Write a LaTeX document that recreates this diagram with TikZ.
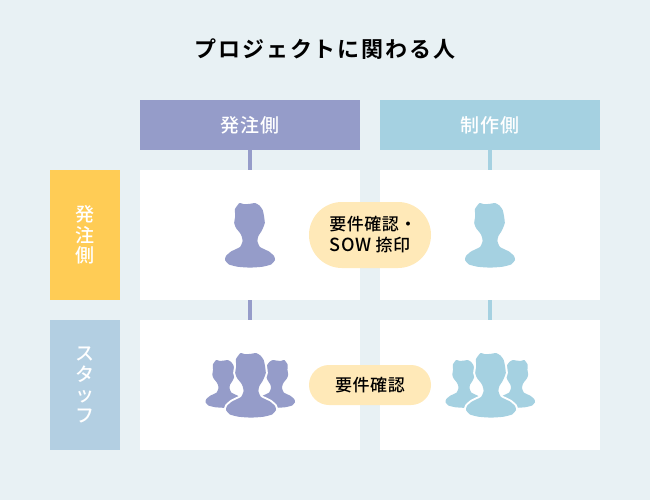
\documentclass[tikz,border=0pt]{standalone}
\usepackage{fontspec}
\setmainfont{Noto Sans CJK JP}
\newfontfamily\med{Noto Sans CJK JP Medium}
\newfontfamily\medh[LetterSpace=3]{Noto Sans CJK JP Medium}
\newfontfamily\medb[LetterSpace=3]{Noto Sans CJK JP Medium}
\newfontfamily\ttl[LetterSpace=9]{Noto Sans CJK JP Bold}
\usetikzlibrary{shapes.misc}
\definecolor{bgc}{HTML}{E8F1F4}
\definecolor{pur}{HTML}{959CC9}
\definecolor{blu}{HTML}{A5D1E1}
\definecolor{org}{HTML}{FFCC55}
\definecolor{stl}{HTML}{B3CFE2}
\definecolor{bub}{HTML}{FFE9B8}
\tikzset{
  headbox/.style={rectangle,inner sep=0pt,minimum width=220pt,minimum height=50pt,text=white,font=\fontsize{19}{21}\selectfont\medh},
  sidebox/.style={rectangle,inner sep=0pt,minimum width=70pt,minimum height=130pt,text=white,align=center,font=\fontsize{19}{20.5}\selectfont\med},
  cell/.style={rectangle,fill=white,inner sep=0pt,minimum width=220pt,minimum height=130pt},
  link/.style={line width=4pt},
  bubble/.style={rounded rectangle,fill=bub,inner sep=0pt,minimum width=122pt,text=black,align=center,font=\fontsize{17}{21}\selectfont\medb},
  person/.pic={
    \path[pic actions] plot[smooth cycle,tension=.3] coordinates {
      (-10.5,0) (-6,1.2) (0,.8) (5,0) (9.5,2.5) (12.7,7) (14,13) (14.8,20) (13,25) (11,29) (8.4,33) (7.4,38)
      (10,44) (19,48.5) (24,53) (25,57) (21,61.5) (12,63.8) (0,64.6) (-12,63.8) (-21,61.5) (-25,57)
      (-24,53) (-19,48.5) (-10,44) (-7.4,38) (-8.4,33) (-10,30) (-14,25) (-15.8,20) (-14.8,13) (-15,6)};
  }
}
\begin{document}
\begin{tikzpicture}[x=1pt,y=-1pt]
\useasboundingbox (0,0) rectangle (650,500);
\fill[bgc] (0,0) rectangle (650,500);
\node[font=\fontsize{22}{26}\selectfont\ttl,text=black] (title) at (325,49) {プロジェクトに関わる人};
\node[headbox,fill=pur] (h1) at (250,125) {発注側};
\node[headbox,fill=blu] (h2) at (490,125) {制作側};
\node[sidebox,fill=org] (s1) at (85,235) {発\\注\\側};
\node[sidebox,fill=stl] (s2) at (85,385) {ス\\タ\\ッ\\フ};
\node[cell] (c11) at (250,235) {};
\node[cell] (c12) at (490,235) {};
\node[cell] (c21) at (250,385) {};
\node[cell] (c22) at (490,385) {};
\draw[link,pur] (h1) -- (c11);
\draw[link,blu] (h2) -- (c12);
\draw[link,pur] (c11) -- (c21);
\draw[link,blu] (c12) -- (c22);
% single persons
\pic[fill=pur] at (250,203) {person};
\pic[fill=blu] at (490,203) {person};
% groups
\pic[fill=pur,scale=.74] at (224,360) {person};
\pic[fill=pur,scale=.74,xscale=-1] at (276.5,360) {person};
\pic[fill=white,draw=white,line width=4pt] at (251,353) {person};
\pic[fill=pur] at (251,353) {person};
\pic[fill=blu,scale=.74] at (464,360) {person};
\pic[fill=blu,scale=.74,xscale=-1] at (516.5,360) {person};
\pic[fill=white,draw=white,line width=4pt] at (491,353) {person};
\pic[fill=blu] at (491,353) {person};
\node[bubble,minimum height=66pt] (b1) at (370,235) {\hspace*{6pt}要件確認・\\{\fontsize{18}{21}\selectfont SOW} 捺印};
\node[bubble,minimum height=40pt] (b2) at (370,385) {要件確認};
\end{tikzpicture}
\end{document}
